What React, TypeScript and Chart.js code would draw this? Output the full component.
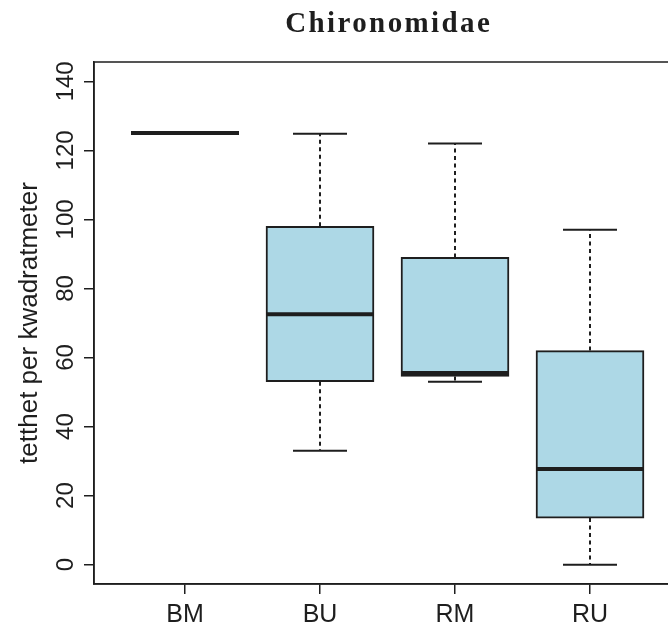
import React, { useEffect, useRef } from 'react';
import { Chart, registerables } from 'chart.js';

Chart.register(...registerables);

// ---- data ----
const groups = ['BM', 'BU', 'RM', 'RU'];
const mins = [125, 33, 53, 0];
const q1s = [125, 53, 54.5, 13.5];
const medians = [125, 72.5, 55.5, 27.7];
const q3s = [125, 98, 89, 62];
const maxs = [125, 124.8, 122, 97];
const yTicks = [0, 20, 40, 60, 80, 100, 120, 140];
const titleText = 'Chironomidae';
const yTitleText = 'tetthet per kwadratmeter';

const INK = '#1e1e1e';
const FILL = '#ADD8E6';

const extrasPlugin = {
  id: 'boxExtras',
  afterDatasetsDraw(chart: any) {
    const ctx = chart.ctx;
    const xs = chart.scales.x;
    const ys = chart.scales.y;
    const meta = chart.getDatasetMeta(0);
    ctx.save();
    groups.forEach((_g, i) => {
      const bar = meta.data[i];
      const w = bar ? bar.getProps(['width'], true).width : 108;
      const half = w / 2;
      const cx = xs.getPixelForValue(i + 1);
      const yMin = ys.getPixelForValue(mins[i]);
      const yQ1 = ys.getPixelForValue(q1s[i]);
      const yMed = ys.getPixelForValue(medians[i]);
      const yQ3 = ys.getPixelForValue(q3s[i]);
      const yMax = ys.getPixelForValue(maxs[i]);
      ctx.strokeStyle = INK;
      // whiskers (dashed)
      ctx.lineWidth = 2;
      ctx.setLineDash([4, 3.5]);
      ctx.beginPath();
      if (yMax < yQ3) { ctx.moveTo(cx, yQ3); ctx.lineTo(cx, yMax); }
      if (yMin > yQ1) { ctx.moveTo(cx, yQ1); ctx.lineTo(cx, yMin); }
      ctx.stroke();
      // caps
      ctx.setLineDash([]);
      ctx.lineWidth = 2;
      ctx.beginPath();
      ctx.moveTo(cx - half / 2, yMax); ctx.lineTo(cx + half / 2, yMax);
      ctx.moveTo(cx - half / 2, yMin); ctx.lineTo(cx + half / 2, yMin);
      ctx.stroke();
      // median
      ctx.lineWidth = 4;
      ctx.beginPath();
      ctx.moveTo(cx - half, yMed); ctx.lineTo(cx + half, yMed);
      ctx.stroke();
    });
    ctx.restore();
  },
  afterDraw(chart: any) {
    const ctx = chart.ctx;
    const xs = chart.scales.x;
    const ys = chart.scales.y;
    const ca = chart.chartArea;
    ctx.save();
    // frame
    ctx.strokeStyle = INK;
    ctx.lineWidth = 1.5;
    ctx.strokeRect(ca.left, ca.top, ca.right - ca.left, ca.bottom - ca.top);

    ctx.fillStyle = INK;
    // y tick labels (rotated)
    ctx.font = '24px "Liberation Sans", Arial, sans-serif';
    ctx.textAlign = 'center';
    ctx.textBaseline = 'alphabetic';
    yTicks.forEach((v) => {
      const y = ys.getPixelForValue(v);
      ctx.save();
      ctx.translate(73, y);
      ctx.rotate(-Math.PI / 2);
      ctx.fillText(String(v), 0, 0);
      ctx.restore();
    });
    // x tick labels
    ctx.font = '25px "Liberation Sans", Arial, sans-serif';
    groups.forEach((g, i) => {
      ctx.fillText(g, xs.getPixelForValue(i + 1), 622);
    });
    // y title
    ctx.font = '26px "Liberation Sans", Arial, sans-serif';
    ctx.save();
    ctx.translate(37, (ca.top + ca.bottom) / 2);
    ctx.rotate(-Math.PI / 2);
    ctx.fillText(yTitleText, 0, 0);
    ctx.restore();
    // title
    ctx.font = 'bold 29px "Liberation Serif", "Times New Roman", serif';
    (ctx as any).letterSpacing = '2.4px';
    ctx.fillText(titleText, (ca.left + ca.right) / 2 + 1.2, 32);
    (ctx as any).letterSpacing = '0px';
    ctx.restore();
  },
};

export default function App() {
  const ref = useRef<HTMLCanvasElement | null>(null);
  useEffect(() => {
    if (!ref.current) return;
    const chart = new Chart(ref.current, {
      type: 'bar',
      data: {
        datasets: [
          {
            data: groups.map((_g, i) => ({ x: i + 1, y: [q1s[i], q3s[i]] })) as any,
            backgroundColor: FILL,
            borderColor: INK,
            borderWidth: 2,
            borderSkipped: false,
            barThickness: 108,
          },
        ],
      },
      options: {
        responsive: false,
        animation: false,
        layout: { padding: { top: 62, right: 19, left: 0, bottom: 0 } },
        plugins: {
          legend: { display: false },
          tooltip: { enabled: false },
          title: { display: false },
        },
        scales: {
          x: {
            type: 'linear',
            offset: false,
            min: 1 - 91 / 135,
            max: 4 + 91 / 135,
            afterBuildTicks: (s: any) => {
              s.ticks = groups.map((_g, i) => ({ value: i + 1 }));
            },
            afterFit: (s: any) => {
              s.height = 42;
            },
            ticks: { display: false },
            grid: {
              display: true,
              offset: false,
              drawOnChartArea: false,
              drawTicks: true,
              tickLength: 10,
              color: INK,
              lineWidth: 1.5,
            },
            border: { display: true, color: INK, width: 1.5 },
          },
          y: {
            type: 'linear',
            min: -5.6,
            max: 145.6,
            afterBuildTicks: (s: any) => {
              s.ticks = yTicks.map((v) => ({ value: v }));
            },
            afterFit: (s: any) => {
              s.width = 94;
            },
            ticks: { display: false },
            grid: {
              display: true,
              drawOnChartArea: false,
              drawTicks: true,
              tickLength: 10,
              color: INK,
              lineWidth: 1.5,
            },
            border: { display: true, color: INK, width: 1.5 },
          },
        },
      } as any,
      plugins: [extrasPlugin],
    });
    return () => chart.destroy();
  }, []);
  return (
    <div
      style={{
        position: 'fixed',
        left: 0,
        top: 0,
        width: 668,
        height: 626,
        overflow: 'hidden',
        background: '#fff',
      }}
    >
      <canvas ref={ref} width={700} height={626} style={{ width: 700, height: 626, display: 'block' }} />
    </div>
  );
}
